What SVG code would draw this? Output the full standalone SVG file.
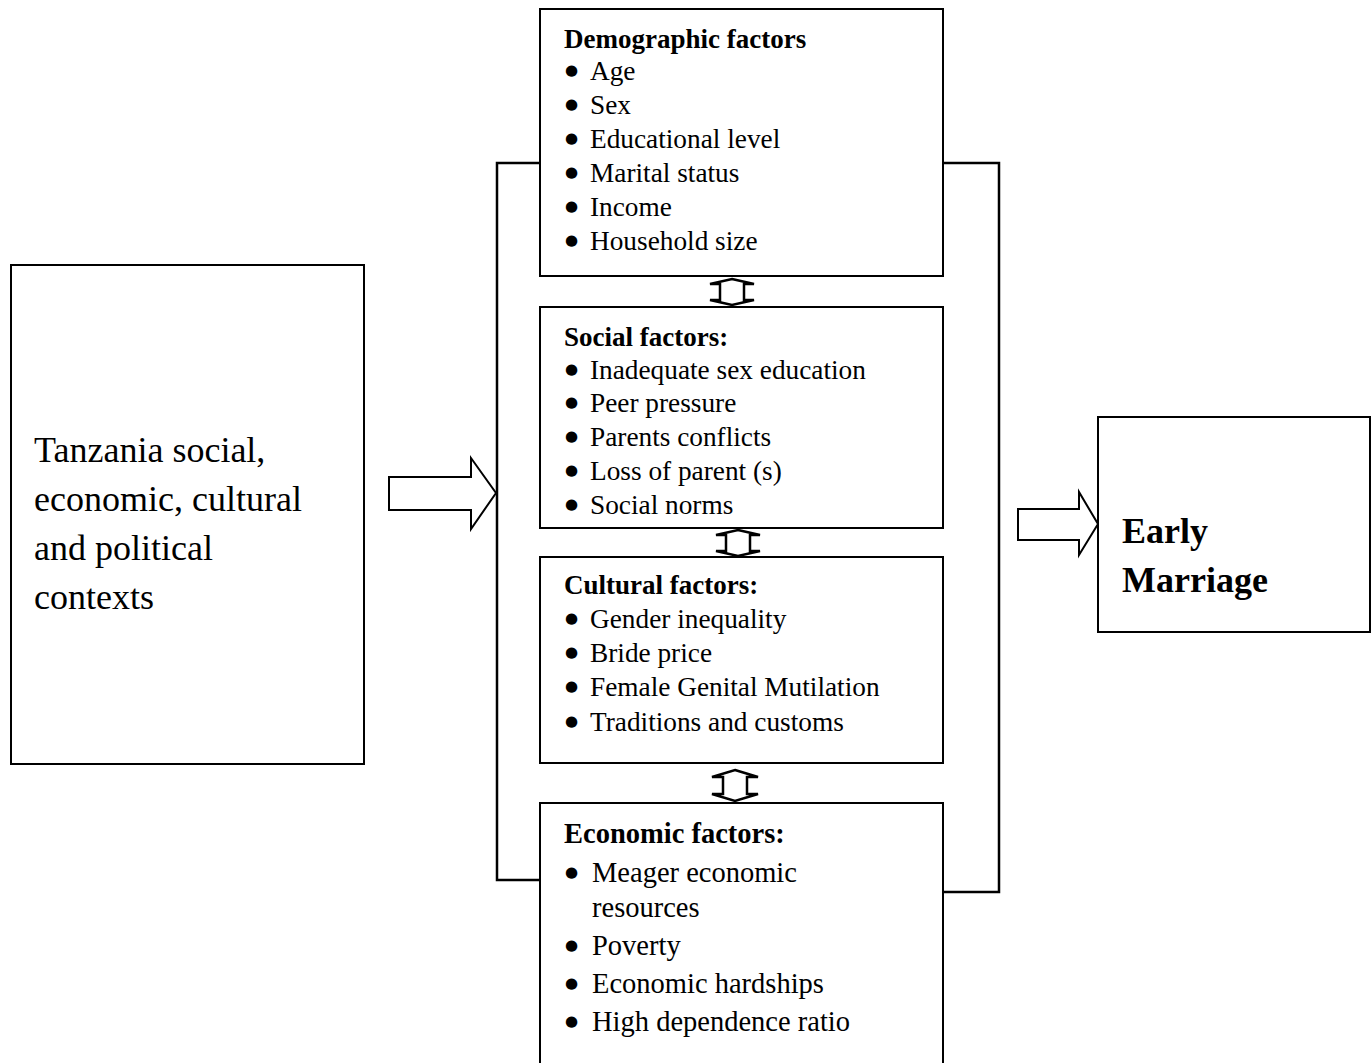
<svg xmlns="http://www.w3.org/2000/svg" width="1372" height="1063" viewBox="0 0 1372 1063">
<style>
.box{fill:#fff;stroke:#000;stroke-width:2}
.ln{fill:none;stroke:#000;stroke-width:2.5}
.arr{fill:#fff;stroke:#000;stroke-width:2}
.dbl{fill:#fff;stroke:#000;stroke-width:2.5;stroke-linejoin:miter}
text{font-family:"Liberation Serif","Times New Roman",serif;fill:#000}
.t{font-size:27.3px}
.tb{font-size:27px;font-weight:bold}
.e{font-size:28.5px}
.eb{font-size:28.5px;font-weight:bold}
.big{font-size:36px}
.bigb{font-size:36px;font-weight:bold}
.b{font-family:"DejaVu Sans",sans-serif;font-size:15px}
</style>
<rect width="1372" height="1063" fill="#fff"/>
<g id="connectors">
<polyline class="ln" points="540,163 497,163 497,880 540,880"/>
<polyline class="ln" points="943,163 999,163 999,892 943,892"/>
<polygon class="arr" points="389,477 471,477 471,458 496,493 471,529 471,510 389,510"/>
<polygon class="arr" points="1018,509 1079,509 1079,492 1098,524 1079,555 1079,540 1018,540"/>
<polygon class="dbl" points="732,279 754,284 744,284 744,300 754,300 732,305 710,300 720,300 720,284 710,284"/>
<polygon class="dbl" points="738,530 760,535 750,535 750,551 760,551 738,556 716,551 726,551 726,535 716,535"/>
<polygon class="dbl" points="735,770 758,777 747,777 747,794 758,794 735,801 712,794 723,794 723,777 712,777"/>
</g>
<g id="context">
<rect class="box" x="11" y="265" width="353" height="499"/>
<text class="big" x="34" y="462">Tanzania social,</text>
<text class="big" x="34" y="511">economic, cultural</text>
<text class="big" x="34" y="560">and political</text>
<text class="big" x="34" y="609">contexts</text>
</g>
<g id="demographic">
<rect class="box" x="540" y="9" width="403" height="267"/>
<text class="tb" x="564" y="48">Demographic factors</text>
<g class="t">
<text x="565" y="80"><tspan class="b" dy="-5">●</tspan><tspan x="590" dy="5">Age</tspan></text>
<text x="565" y="114"><tspan class="b" dy="-5">●</tspan><tspan x="590" dy="5">Sex</tspan></text>
<text x="565" y="148"><tspan class="b" dy="-5">●</tspan><tspan x="590" dy="5">Educational level</tspan></text>
<text x="565" y="182"><tspan class="b" dy="-5">●</tspan><tspan x="590" dy="5">Marital status</tspan></text>
<text x="565" y="216"><tspan class="b" dy="-5">●</tspan><tspan x="590" dy="5">Income</tspan></text>
<text x="565" y="250"><tspan class="b" dy="-5">●</tspan><tspan x="590" dy="5">Household size</tspan></text>
</g>
</g>
<g id="social">
<rect class="box" x="540" y="307" width="403" height="221"/>
<text class="tb" x="564" y="346">Social factors:</text>
<g class="t">
<text x="565" y="379"><tspan class="b" dy="-5">●</tspan><tspan x="590" dy="5">Inadequate sex education</tspan></text>
<text x="565" y="412"><tspan class="b" dy="-5">●</tspan><tspan x="590" dy="5">Peer pressure</tspan></text>
<text x="565" y="446"><tspan class="b" dy="-5">●</tspan><tspan x="590" dy="5">Parents conflicts</tspan></text>
<text x="565" y="480"><tspan class="b" dy="-5">●</tspan><tspan x="590" dy="5">Loss of parent (s)</tspan></text>
<text x="565" y="514"><tspan class="b" dy="-5">●</tspan><tspan x="590" dy="5">Social norms</tspan></text>
</g>
</g>
<g id="cultural">
<rect class="box" x="540" y="557" width="403" height="206"/>
<text class="tb" x="564" y="594">Cultural factors:</text>
<g class="t">
<text x="565" y="628"><tspan class="b" dy="-5">●</tspan><tspan x="590" dy="5">Gender inequality</tspan></text>
<text x="565" y="662"><tspan class="b" dy="-5">●</tspan><tspan x="590" dy="5">Bride price</tspan></text>
<text x="565" y="696"><tspan class="b" dy="-5">●</tspan><tspan x="590" dy="5">Female Genital Mutilation</tspan></text>
<text x="565" y="731"><tspan class="b" dy="-5">●</tspan><tspan x="590" dy="5">Traditions and customs</tspan></text>
</g>
</g>
<g id="economic">
<rect class="box" x="540" y="803" width="403" height="270"/>
<text class="eb" x="564" y="843">Economic factors:</text>
<g class="e">
<text x="565" y="882"><tspan class="b" dy="-5">●</tspan><tspan x="592" dy="5">Meager economic</tspan></text>
<text x="592" y="917">resources</text>
<text x="565" y="955"><tspan class="b" dy="-5">●</tspan><tspan x="592" dy="5">Poverty</tspan></text>
<text x="565" y="993"><tspan class="b" dy="-5">●</tspan><tspan x="592" dy="5">Economic hardships</tspan></text>
<text x="565" y="1031"><tspan class="b" dy="-5">●</tspan><tspan x="592" dy="5">High dependence ratio</tspan></text>
</g>
</g>
<g id="outcome">
<rect class="box" x="1098" y="417" width="272" height="215"/>
<text class="bigb" x="1122" y="543">Early</text>
<text class="bigb" x="1122" y="592">Marriage</text>
</g>
</svg>
